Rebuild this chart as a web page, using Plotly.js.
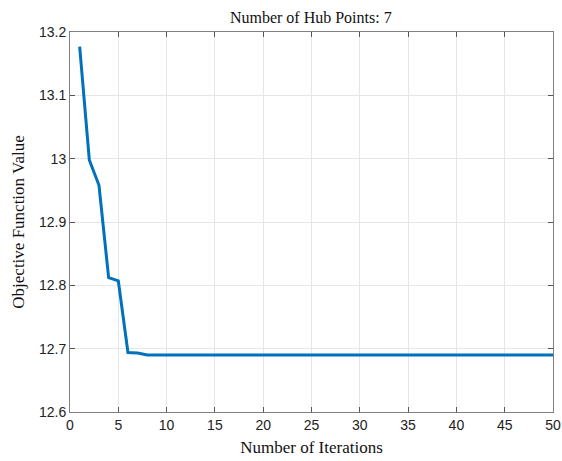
<!DOCTYPE html>
<html>
<head>
<meta charset="utf-8">
<script src="https://cdn.plot.ly/plotly-3.0.1.min.js"></script>
<style>html,body{margin:0;padding:0;background:#fff;}#chart{width:562px;height:461px;}</style>
</head>
<body>
<div id="chart"></div>
<script>
const iterations = [];
for (let i = 1; i <= 50; i++) iterations.push(i);
const objectiveHead = [13.177, 12.998, 12.958, 12.812, 12.807, 12.694, 12.693, 12.690];
const objectiveTail = [12.690,12.690,12.690,12.690,12.690,12.690,12.690,12.690,12.690,12.690,
12.690,12.690,12.690,12.690,12.690,12.690,12.690,12.690,12.690,12.690,
12.690,12.690,12.690,12.690,12.690,12.690,12.690,12.690,12.690,12.690,
12.690,12.690,12.690,12.690,12.690,12.690,12.690,12.690,12.690,12.690,12.690,12.690];
const objective = objectiveHead.concat(objectiveTail);
const xTicks = [0,5,10,15,20,25,30,35,40,45,50];
const yTicks = [12.6,12.7,12.8,12.9,13,13.1,13.2];
const yTickText = ['12.6','12.7','12.8','12.9','13','13.1','13.2'];

const axisCommon = {
  showline: true, linecolor: '#808080', linewidth: 1, mirror: 'ticks',
  ticks: 'inside', ticklen: 5, tickcolor: '#555', tickwidth: 1,
  showgrid: true, gridcolor: '#e6e6e6', gridwidth: 1, zeroline: false,
  tickfont: {family: 'Liberation Sans, Arial, sans-serif', size: 14, color: '#222'}
};

Plotly.newPlot('chart', [{
  x: iterations, y: objective, type: 'scatter', mode: 'lines',
  line: {color: '#0072BD', width: 3}
}], {
  width: 562, height: 461,
  margin: {l: 70, r: 9, t: 32, b: 49},
  paper_bgcolor: '#fff', plot_bgcolor: '#fff',
  showlegend: false,
  title: {text: 'Number of Hub Points: 7', x: 0.553, xanchor: 'center', y: 0.975, yanchor: 'top',
          font: {family: 'Liberation Serif, Times New Roman, serif', size: 16, color: '#111'}},
  xaxis: Object.assign({}, axisCommon, {
    range: [0, 50], tickvals: xTicks,
    title: {text: 'Number of Iterations', standoff: 9,
            font: {family: 'Liberation Serif, Times New Roman, serif', size: 17, color: '#111'}}
  }),
  yaxis: Object.assign({}, axisCommon, {
    range: [12.6, 13.2], tickvals: yTicks, ticktext: yTickText,
    title: {text: 'Objective Function Value', standoff: 10,
            font: {family: 'Liberation Serif, Times New Roman, serif', size: 17, color: '#111'}}
  })
}, {staticPlot: true});
</script>
</body>
</html>
